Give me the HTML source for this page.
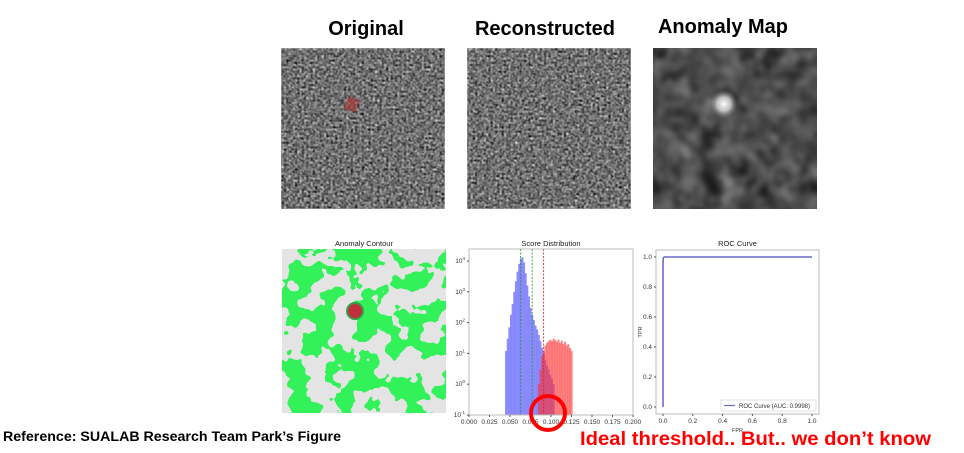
<!DOCTYPE html>
<html><head><meta charset="utf-8"><style>
body{margin:0;width:964px;height:453px;background:#fff;overflow:hidden;position:relative;font-family:"Liberation Sans",sans-serif}
.t{position:absolute;font-weight:bold;font-size:20px;color:#000;transform:translateX(-50%);white-space:nowrap}
</style></head><body>
<div class="t" style="left:366px;top:18px">Original</div>
<div class="t" style="left:545px;top:18px">Reconstructed</div>
<div class="t" style="left:723px;top:16px">Anomaly Map</div>
<svg width="964" height="453" style="position:absolute;left:0;top:0">
<defs>
<filter id="noise" x="0" y="0" width="100%" height="100%" color-interpolation-filters="sRGB">
<feTurbulence type="fractalNoise" baseFrequency="0.45" numOctaves="2" seed="3"/>
<feColorMatrix type="matrix" values="0.33 0.33 0.33 0 0  0.33 0.33 0.33 0 0  0.33 0.33 0.33 0 0  0 0 0 0 1"/>
<feGaussianBlur stdDeviation="0.5"/>
<feComponentTransfer><feFuncR type="linear" slope="2.4" intercept="-0.75"/><feFuncG type="linear" slope="2.4" intercept="-0.75"/><feFuncB type="linear" slope="2.4" intercept="-0.75"/></feComponentTransfer>
</filter>
<filter id="blurmap" x="0" y="0" width="100%" height="100%" color-interpolation-filters="sRGB">
<feTurbulence type="fractalNoise" baseFrequency="0.05" numOctaves="2" seed="7"/>
<feColorMatrix type="matrix" values="0.33 0.33 0.33 0 0  0.33 0.33 0.33 0 0  0.33 0.33 0.33 0 0  0 0 0 0 1"/>
<feComponentTransfer><feFuncR type="linear" slope="0.9" intercept="-0.15"/><feFuncG type="linear" slope="0.9" intercept="-0.15"/><feFuncB type="linear" slope="0.9" intercept="-0.15"/></feComponentTransfer>
</filter>
<filter id="green" x="0" y="0" width="100%" height="100%" color-interpolation-filters="sRGB">
<feTurbulence type="fractalNoise" baseFrequency="0.045" numOctaves="3" seed="11"/>
<feColorMatrix type="matrix" values="0 0 0 0 0.2  0 0 0 0 0.95  0 0 0 0 0.35  1 0 0 0 0"/>
<feComponentTransfer><feFuncA type="discrete" tableValues="0 0 0 0 0 1 1 1 1 1"/></feComponentTransfer>
</filter>
<radialGradient id="blob"><stop offset="0" stop-color="#fff"/><stop offset="0.5" stop-color="#ddd" stop-opacity="0.8"/><stop offset="1" stop-color="#888" stop-opacity="0"/></radialGradient>
</defs>
<rect x="281" y="48" width="164" height="161" filter="url(#noise)"/>
<rect x="346" y="98" width="12" height="13" fill="#b03030" opacity="0.6" transform="rotate(20 352 104)"/>
<rect x="467" y="48" width="164" height="161" filter="url(#noise)"/>
<rect x="653" y="48" width="164" height="161" filter="url(#blurmap)"/>
<circle cx="724" cy="104" r="14" fill="url(#blob)"/>
<text x="364" y="246" font-size="7.5" text-anchor="middle" fill="#222">Anomaly Contour</text>
<rect x="282" y="249" width="164" height="164" fill="#e4e4e4"/>
<rect x="282" y="249" width="164" height="164" filter="url(#green)"/>
<circle cx="355" cy="311" r="9" fill="#3a9a4a"/>
<circle cx="355" cy="311" r="7" fill="#c0303a"/>
<g id="hist"></g>
<g id="roc"></g>
<circle cx="548" cy="413" r="17" fill="none" stroke="#ff0000" stroke-width="4"/>
<text x="580" y="445" font-size="19" font-weight="bold" fill="#ff0000" textLength="351" lengthAdjust="spacingAndGlyphs">Ideal threshold.. But.. we don’t know</text>
<text x="3" y="441" font-size="13.5" font-weight="bold" fill="#000" textLength="338" lengthAdjust="spacingAndGlyphs">Reference: SUALAB Research Team Park’s Figure</text>
</svg>
<script>
const blueBins=[0.044,0.046,0.048,0.050,0.052,0.054,0.056,0.058,0.060,0.062,0.064,0.066,0.068,0.070,0.072,0.074,0.076,0.078,0.080,0.082,0.084,0.086,0.088,0.090,0.092,0.094,0.096,0.098,0.100,0.102];
const blueCounts=[12,30,70,180,400,1000,2200,4500,8000,12000,13000,9000,4000,1600,700,300,180,120,80,60,40,25,15,10,6,4,3,2,1.5,1];
const redBins=[0.084,0.086,0.088,0.090,0.092,0.094,0.096,0.098,0.100,0.102,0.104,0.106,0.108,0.110,0.112,0.114,0.116,0.118,0.120,0.122,0.124];
const redCounts=[1,3,8,12,18,22,25,28,25,30,27,24,28,22,26,20,24,18,20,15,12];
const thresholds=[0.063,0.077,0.091];
const thresholdColors=['#2ca02c','#2ca02c','#d62728'];
const xTicks=[0,0.025,0.05,0.075,0.1,0.125,0.15,0.175,0.2];
const yExps=[-1,0,1,2,3,4];
const rocFpr=[0,0,0.002,0.01,1];
const rocTpr=[0,0.95,0.995,1,1];
const rocTicks=[0,0.2,0.4,0.6,0.8,1.0];
const NS='http://www.w3.org/2000/svg';
function mk(p,tag,a,txt){const e=document.createElementNS(NS,tag);for(const k in a)e.setAttribute(k,a[k]);if(txt!==undefined)e.textContent=txt;p.appendChild(e);return e;}
const H=document.getElementById('hist');
const L=469,R=633,T=249,B=415;
const hx=v=>L+(v-0)/(0.2)*(R-L);
const hy=c=>B-(Math.log10(c)+1)*((B-261)/5);
mk(H,'text',{x:(L+R)/2,y:246,'font-size':7.5,'text-anchor':'middle',fill:'#222'},'Score Distribution');
const bw=0.002;
blueBins.forEach((b,i)=>{const r=mk(H,'rect',{x:hx(b),y:hy(blueCounts[i]),width:hx(b+bw)-hx(b)+0.3,height:B-hy(blueCounts[i]),fill:'#7070ff','fill-opacity':0.8});

});
redBins.forEach((b,i)=>{const r=mk(H,'rect',{x:hx(b),y:hy(redCounts[i]),width:hx(b+bw)-hx(b)+0.3,height:B-hy(redCounts[i]),fill:'#ff3030','fill-opacity':0.6});

});
thresholds.forEach((t,i)=>{const l=mk(H,'line',{x1:hx(t),x2:hx(t),y1:T,y2:B,stroke:thresholdColors[i],'stroke-width':0.9,'stroke-dasharray':'2,1.5'});

});
mk(H,'rect',{x:L,y:T,width:R-L,height:B-T,fill:'none',stroke:'#bbb','stroke-width':1});
xTicks.forEach(v=>{mk(H,'line',{x1:hx(v),x2:hx(v),y1:B,y2:B+2,stroke:'#555'});mk(H,'text',{x:hx(v),y:B+9,'font-size':6.5,'text-anchor':'middle',fill:'#333'},v.toFixed(3));});
yExps.forEach(e=>{const y=B-(e+1)*((B-261)/5);mk(H,'line',{x1:L-2,x2:L,y1:y,y2:y,stroke:'#555'});const t=mk(H,'text',{x:L-4,y:y+2,'font-size':6.5,'text-anchor':'end',fill:'#333'},'10');mk(t,'tspan',{dy:-3,'font-size':4.5},String(e));});
const G=document.getElementById('roc');
const rL=656,rR=819,rT=250,rB=414;
const rx=v=>663+v*(812-663);
const ry=v=>407-v*(407-257);
mk(G,'text',{x:(rL+rR)/2,y:246,'font-size':7.5,'text-anchor':'middle',fill:'#222'},'ROC Curve');
mk(G,'rect',{x:rL,y:rT,width:rR-rL,height:rB-rT,fill:'none',stroke:'#bbb','stroke-width':1});
const pl=mk(G,'polyline',{points:rocFpr.map((f,i)=>rx(f)+','+ry(rocTpr[i])).join(' '),fill:'none',stroke:'#6a6ac8','stroke-width':1.6});


rocTicks.forEach(v=>{mk(G,'line',{x1:rx(v),x2:rx(v),y1:rB,y2:rB+2,stroke:'#555'});mk(G,'text',{x:rx(v),y:rB+9,'font-size':6.5,'text-anchor':'middle',fill:'#333'},v.toFixed(1));
mk(G,'line',{x1:rL-2,x2:rL,y1:ry(v),y2:ry(v),stroke:'#555'});mk(G,'text',{x:rL-4,y:ry(v)+2,'font-size':6.5,'text-anchor':'end',fill:'#333'},v.toFixed(1));});
mk(G,'text',{x:(rL+rR)/2,y:rB+18,'font-size':5.5,'text-anchor':'middle',fill:'#333'},'FPR');
mk(G,'text',{x:642,y:(rT+rB)/2,'font-size':5.5,'text-anchor':'middle',fill:'#333',transform:'rotate(-90 642 '+(rT+rB)/2+')'},'TPR');
const lg=mk(G,'rect',{x:721,y:400,width:95,height:11,fill:'#fff',stroke:'#ccc','stroke-width':0.6});


mk(G,'line',{x1:724,x2:735,y1:405.5,y2:405.5,stroke:'#6a6ac8','stroke-width':1.2});
mk(G,'text',{x:739,y:408,'font-size':6,fill:'#333'},'ROC Curve (AUC: 0.9998)');
</script>
</body></html>
